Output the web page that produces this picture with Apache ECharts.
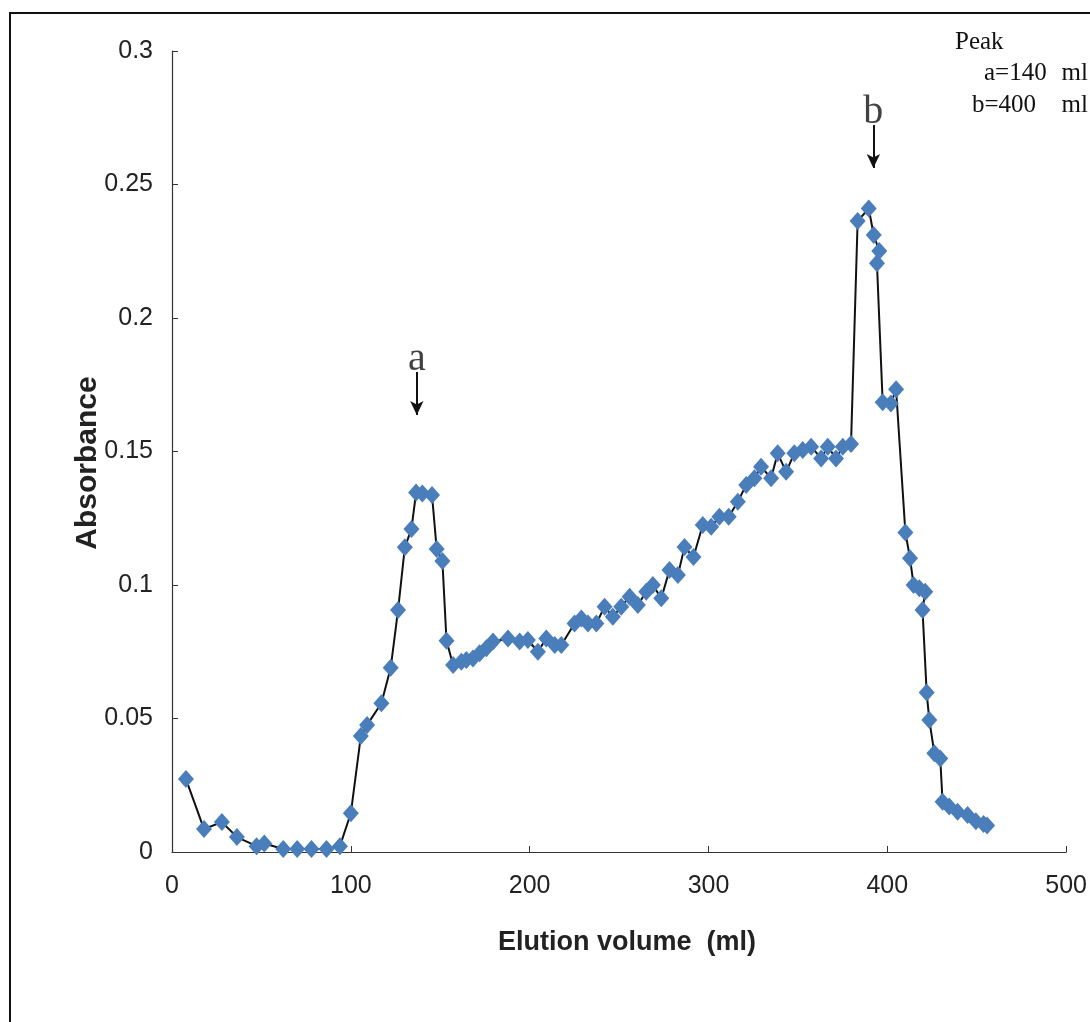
<!DOCTYPE html>
<html>
<head>
<meta charset="utf-8">
<script src="https://cdn.jsdelivr.net/npm/echarts@6/dist/echarts.min.js"></script>
<style>html,body{margin:0;padding:0;background:#fff;}#c{width:1090px;height:1022px;}</style>
</head>
<body>
<div id="c"></div>
<script>
const elutionVolume = [7.8, 17.9, 27.9, 36.3, 47.3, 51.6, 62.2, 70.0, 78.0, 86.4, 93.9, 100.0, 105.6, 109.1, 117.1, 122.3, 126.4, 130.2, 133.9, 136.5, 140.0, 145.4, 148.0, 151.2, 153.5, 157.2, 161.8, 164.6, 168.3, 172.0, 175.8, 179.5, 187.9, 194.4, 199.0, 204.6, 209.3, 214.0, 217.7, 225.1, 228.9, 232.6, 237.3, 241.9, 246.5, 251.2, 255.9, 260.5, 265.2, 268.9, 273.6, 278.2, 282.9, 286.6, 291.6, 296.8, 301.5, 306.1, 311.3, 316.4, 321.1, 325.7, 329.4, 335.0, 338.7, 343.4, 348.0, 352.7, 357.4, 363.0, 366.7, 371.3, 375.1, 379.7, 383.4, 389.6, 392.4, 395.5, 394.2, 397.4, 402.0, 404.9, 410.1, 412.7, 414.7, 417.9, 421.2, 419.7, 422.0, 423.5, 426.3, 429.6, 430.9, 434.6, 439.3, 444.9, 449.5, 453.8, 455.8];
const absorbance = [0.0273, 0.0086, 0.0112, 0.0056, 0.0022, 0.0032, 0.0011, 0.0011, 0.0011, 0.0011, 0.0022, 0.0145, 0.0434, 0.0476, 0.0557, 0.069, 0.0906, 0.1141, 0.121, 0.1346, 0.1343, 0.1337, 0.1135, 0.109, 0.0791, 0.070, 0.0713, 0.0719, 0.0725, 0.0744, 0.0763, 0.0788, 0.080, 0.0788, 0.0794, 0.075, 0.080, 0.0775, 0.0775, 0.0856, 0.0875, 0.0856, 0.0856, 0.0919, 0.0881, 0.0919, 0.0956, 0.0925, 0.0975, 0.100, 0.095, 0.1056, 0.1037, 0.1142, 0.1105, 0.1225, 0.1218, 0.1256, 0.1256, 0.1312, 0.1375, 0.140, 0.1443, 0.140, 0.1493, 0.1424, 0.1493, 0.1506, 0.1518, 0.1474, 0.1518, 0.1474, 0.1518, 0.1528, 0.2363, 0.241, 0.2311, 0.2251, 0.2205, 0.1684, 0.168, 0.1733, 0.1197, 0.110, 0.100, 0.0988, 0.0975, 0.0906, 0.0597, 0.0494, 0.037, 0.035, 0.0188, 0.017, 0.0151, 0.0139, 0.0115, 0.0105, 0.0099];
const yTicks = [0, 0.05, 0.1, 0.15, 0.2, 0.25, 0.3];
const xTicks = [0, 100, 200, 300, 400, 500];
const peakLabels = ['a', 'b'];
const peakPositions = [136.9, 392.2];
const peakArrowTop = [0.1798, 0.2723];
const peakArrowBottom = [0.1637, 0.2562];
const legendTitle = 'Peak';
const legendValues = ['a=140', 'b=400'];
const legendUnit = 'ml';
const xTitle = 'Elution volume  (ml)';
const yTitle = 'Absorbance';

const chart = echarts.init(document.getElementById('c'));
const serif = '"Liberation Serif", "DejaVu Serif", serif';
const sans = '"Liberation Sans", Arial, sans-serif';

const legendLeft = [984, 972];
const legendTop = [61, 93];
const legendGraphics = [{ type: 'text', left: 955, top: 30, style: { text: legendTitle, font: '25px ' + serif, fill: '#111' } }];
legendValues.forEach((t, i) => {
  legendGraphics.push({ type: 'text', left: legendLeft[i], top: legendTop[i], style: { text: t, font: '25px ' + serif, fill: '#111' } });
  legendGraphics.push({ type: 'text', right: 2, top: legendTop[i], style: { text: legendUnit, font: '25px ' + serif, fill: '#111', align: 'right' } });
});

chart.setOption({
  animation: false,
  backgroundColor: '#fff',
  grid: { left: 172, top: 51, right: 22, bottom: 170 },
  xAxis: {
    type: 'value', min: 0, max: 500, interval: 100,
    axisLine: { onZero: false, lineStyle: { color: '#333', width: 1.2 } },
    axisTick: { inside: true, length: 6, lineStyle: { color: '#333' } },
    axisLabel: { fontFamily: sans, fontSize: 25, color: '#222', margin: 22,
      formatter: v => { const t = xTicks.find(x => Math.abs(x - v) < 1e-9); return t === undefined ? '' : String(t); } },
    splitLine: { show: false }
  },
  yAxis: {
    type: 'value', min: 0, max: 0.3, interval: 0.05,
    axisLine: { show: true, lineStyle: { color: '#333', width: 1.2 } },
    axisTick: { show: true, inside: true, length: 6, lineStyle: { color: '#333' } },
    axisLabel: { fontFamily: sans, fontSize: 25, color: '#222', margin: 19,
      formatter: v => { const t = yTicks.find(x => Math.abs(x - v) < 1e-9); return t === undefined ? '' : String(t); } },
    splitLine: { show: false }
  },
  series: [{
    type: 'line',
    data: elutionVolume.map((x, i) => [x, absorbance[i]]),
    symbol: 'diamond', symbolSize: [16, 18],
    itemStyle: { color: '#4a7ebb' },
    lineStyle: { color: '#111', width: 2 },
    z: 3
  }, {
    type: 'scatter',
    data: peakLabels.map((l, i) => ({ value: [peakPositions[i], peakArrowTop[i]], name: l })),
    symbolSize: 0,
    label: { show: true, formatter: p => p.name, position: 'top', distance: -8,
      fontFamily: serif, fontSize: 40, color: '#111' },
    markLine: {
      silent: true, symbol: ['none', 'arrow'], symbolSize: [10, 14],
      lineStyle: { color: '#111', width: 2, type: 'solid' },
      label: { show: false },
      data: peakLabels.map((l, i) => [
        { coord: [peakPositions[i], peakArrowTop[i]] },
        { coord: [peakPositions[i], peakArrowBottom[i]] }
      ])
    }
  }],
  graphic: [
    { type: 'rect', shape: { x: 10, y: 13, width: 1200, height: 1200 }, style: { fill: 'none', stroke: '#111', lineWidth: 2 }, silent: true },
    { type: 'text', x: 88, y: 463, rotation: Math.PI / 2, style: { text: yTitle, font: 'bold 30px ' + sans, fill: '#222', align: 'center', verticalAlign: 'middle' } },
    { type: 'text', x: 627, y: 943, style: { text: xTitle, font: 'bold 27px ' + sans, fill: '#222', align: 'center', verticalAlign: 'middle' } }
  ].concat(legendGraphics)
});
</script>
</body>
</html>
